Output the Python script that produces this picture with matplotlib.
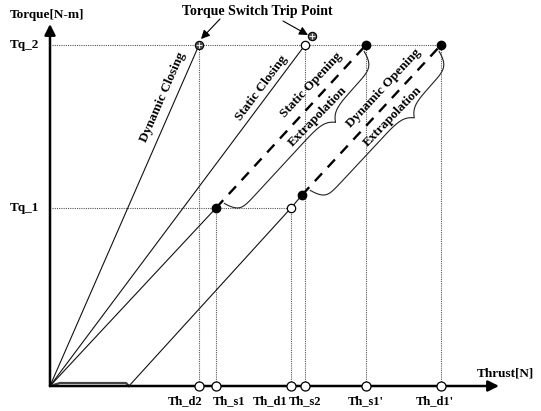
import numpy as np
import matplotlib
matplotlib.use("Agg")
from matplotlib import pyplot as plt

# torque levels and thrust positions (same arbitrary units on both axes)
tq_names = ["Tq_1", "Tq_2"]
tq_vals = [178, 341]

th_names = ["Th_d2", "Th_s1", "Th_d1", "Th_s2", "Th_s1'", "Th_d1'"]
th_vals = [149, 166, 241, 255, 316, 391]
th_tops = [341, 178, 178, 341, 341, 341]

# measured curves
dyn_close_x = [0, 149]
dyn_close_y = [0, 341]
stat_close_x = [0, 255]
stat_close_y = [0, 341]
stat_open_x = [0, 166]
stat_open_y = [0, 178]
dyn_open_x = [0, 10, 76, 79, 241, 252]
dyn_open_y = [0, 3, 3, 0, 178, 191]

# extrapolated parts
stat_ext_x = [166, 316]
stat_ext_y = [178, 341]
dyn_ext_x = [252, 391]
dyn_ext_y = [191, 341]

trip_x = [149, 262]
trip_y = [341, 350]

FONT = dict(family=["Liberation Serif", "DejaVu Serif"], fontweight="bold", color="black")


def brace(p0, p1, width=20.0, tip=0.65, height=10.0):
    # curly brace on the lower-right side of the segment p0 -> p1
    p0 = np.array(p0, float)
    p1 = np.array(p1, float)
    d = p1 - p0
    L = np.hypot(*d)
    u = d / L
    n = np.array([u[1], -u[0]])
    s = np.linspace(9, L - 6, 500)
    off = 3 + (width - 3) * (1 - np.exp(-(s - 9) / 4)) * (1 - np.exp(-(L - 6 - s) / 5))
    off += height * np.exp(-np.abs(s - tip * L) / 7)
    pts = p0 + np.outer(s, u) + np.outer(off, n)
    return pts[:, 0], pts[:, 1]


fig = plt.figure(figsize=(5.41, 4.11), dpi=100)
ax = fig.add_axes([0, 0, 1, 1])
ax.set_xlim(-50, 491)
ax.set_ylim(-25, 386)
ax.axis("off")

# axes with arrows
ax.annotate("", xy=(0, 362), xytext=(0, 0),
            arrowprops=dict(arrowstyle="-|>", lw=1.8, mutation_scale=16, color="black",
                            shrinkA=0, shrinkB=0))
ax.annotate("", xy=(449, 0), xytext=(0, 0),
            arrowprops=dict(arrowstyle="-|>", lw=1.8, mutation_scale=16, color="black",
                            shrinkA=0, shrinkB=0))
ax.text(-3, 371, "Torque[N-m]", ha="center", va="center", fontsize=9.5, **FONT)
ax.text(455, 13, "Thrust[N]", ha="center", va="center", fontsize=9.5, **FONT)

# dotted guides
dot = dict(color="#555555", lw=0.8, ls=(0, (1, 1)))
ax.plot([2, th_vals[5]], [tq_vals[1]] * 2, **dot)
ax.plot([2, th_vals[2]], [tq_vals[0]] * 2, **dot)
for x, top in zip(th_vals, th_tops):
    ax.plot([x, x], [0, top], **dot)

for name, y in zip(tq_names, tq_vals):
    ax.text(-26, y, name, ha="center", va="center", fontsize=9.5, **FONT)

# curves
line = dict(color="#111111", lw=0.8)
ax.plot(dyn_close_x, dyn_close_y, **line)
ax.plot(stat_close_x, stat_close_y, **line)
ax.plot(stat_open_x, stat_open_y, **line)
ax.plot(dyn_open_x, dyn_open_y, **line)
ax.plot(dyn_open_x[:4], dyn_open_y[:4], color="#444444", lw=1.6)

dash = dict(color="black", lw=1.7, dashes=(4.5, 3.5))
ax.plot(stat_ext_x, stat_ext_y, **dash)
ax.plot(dyn_ext_x, dyn_ext_y, **dash)

for ex, ey in [(stat_ext_x, stat_ext_y), (dyn_ext_x, dyn_ext_y)]:
    bx, by = brace((ex[0], ey[0]), (ex[1], ey[1]))
    ax.plot(bx, by, color="#222222", lw=0.8)

# points
ax.plot([stat_open_x[-1], dyn_open_x[-1], stat_ext_x[-1], dyn_ext_x[-1]],
        [stat_open_y[-1], dyn_open_y[-1], stat_ext_y[-1], dyn_ext_y[-1]],
        "o", ms=6, color="black", zorder=5)
ax.plot([th_vals[2], stat_close_x[-1]], [tq_vals[0], stat_close_y[-1]], "o", ms=6,
        mfc="white", mec="black", mew=0.9, zorder=5)
ax.plot(trip_x, trip_y, "o", ms=6, mfc="#555555", mec="black", mew=0.8, zorder=6)
ax.plot(trip_x, trip_y, "+", ms=5, color="white", mew=0.6, zorder=7)
ax.plot(th_vals, [0] * len(th_vals), "o", ms=6.5, mfc="white", mec="black", mew=0.9,
        zorder=5, clip_on=False)

# thrust labels under the axis
offsets = [(3, "right"), (-3, "left"), (-4, "right"), (0, "center"), (0, "center"), (-6, "center")]
for name, x, (dx, ha) in zip(th_names, th_vals, offsets):
    ax.text(x + dx, -15, name, ha=ha, va="center", fontsize=9, **FONT)

# trip point callout
ax.text(207, 374, "Torque Switch Trip Point", ha="center", va="center", fontsize=10, **FONT)
arr = dict(arrowstyle="-|>", lw=0.8, mutation_scale=13, color="black", shrinkA=0, shrinkB=0)
ax.annotate("", xy=(trip_x[0] + 2, trip_y[0] + 6), xytext=(170, 367), arrowprops=arr)
ax.annotate("", xy=(trip_x[1] - 4, trip_y[1] + 1), xytext=(233, 365), arrowprops=arr)

# curve labels
labels = [
    ("Dynamic Closing", 113, 289, 66.4),
    ("Static Closing", 212, 298, 53.2),
    ("Static Opening", 261, 301, 47),
    ("Extrapolation", 268, 269, 46),
    ("Dynamic Opening", 334, 298, 47),
    ("Extrapolation", 343, 269, 46),
]
for text, x, y, rot in labels:
    ax.text(x, y, text, rotation=rot, rotation_mode="anchor", ha="center", va="center",
            fontsize=9.5, **FONT)

fig.savefig("out.png", dpi=100, facecolor="white")
